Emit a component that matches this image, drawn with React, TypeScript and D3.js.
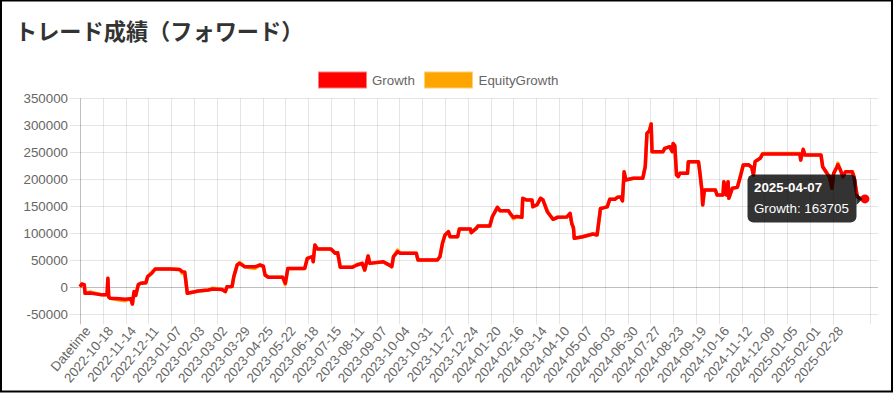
import React, { useEffect, useRef } from "react";
import * as d3 from "d3";

// category labels shown on the x axis (every 27th day)
const tickLabels = [
  "Datetime", "2022-10-18", "2022-11-14", "2022-12-11", "2023-01-07", "2023-02-03",
  "2023-03-02", "2023-03-29", "2023-04-25", "2023-05-22", "2023-06-18", "2023-07-15",
  "2023-08-11", "2023-09-07", "2023-10-04", "2023-10-31", "2023-11-27", "2023-12-24",
  "2024-01-20", "2024-02-16", "2024-03-14", "2024-04-10", "2024-05-07", "2024-06-03",
  "2024-06-30", "2024-07-27", "2024-08-23", "2024-09-19", "2024-10-16", "2024-11-12",
  "2024-12-09", "2025-01-05", "2025-02-01", "2025-02-28",
];
const labelStep = 27;
const lastCategory = 935;

const yTicks = [-50000, 0, 50000, 100000, 150000, 200000, 250000, 300000, 350000];

// category index of each sampled point
const days = [
  0, 2, 5, 6, 12, 26, 32, 33, 34, 36, 47, 53, 60, 62, 64, 66, 69, 72, 78, 80,
  85, 89, 107, 118, 121, 124, 127, 130, 140, 152, 157, 168, 172, 174, 180, 182, 186, 189, 195, 207,
  213, 217, 219, 223, 240, 243, 246, 266, 269, 275, 276, 278, 281, 297, 302, 305, 308, 322, 328, 334,
  337, 341, 343, 359, 365, 369, 371, 376, 379, 398, 400, 423, 426, 429, 432, 436, 438, 447, 449, 462,
  463, 469, 471, 485, 488, 494, 497, 507, 509, 513, 517, 523, 524, 529, 535, 536, 541, 545, 548, 553,
  556, 560, 565, 576, 580, 582, 584, 585, 595, 607, 612, 613, 616, 619, 624, 627, 633, 636, 640, 642,
  644, 646, 655, 666, 669, 671, 674, 676, 677, 690, 692, 698, 701, 702, 704, 706, 708, 710, 719, 720,
  732, 734, 736, 737, 739, 752, 754, 761, 762, 765, 767, 768, 772, 778, 781, 785, 791, 795, 797, 799,
  801, 805, 808, 852, 853, 856, 858, 877, 879, 884, 887, 890, 892, 896, 897, 900, 903, 906, 914, 916,
  920, 923, 929,
];

const growth = [
  1000, 6000, 5000, -11000, -10500, -14000, -14000, 16700, -18000, -20400, -21000, -22000, -21000, -31000, -8000, -15000, 5000, 7400, 8500, 19600,
  26000, 33900, 34000, 33000, 29000, 28000, -11000, -10000, -7000, -5000, -3100, -4000, -8000, 1100, 1500, 19600, 41300, 44400, 38000, 38000,
  41300, 39000, 22800, 18500, 18500, 7400, 35000, 35000, 53700, 56700, 47400, 78300, 71000, 71000, 63000, 64000, 37000, 37000, 41300, 44400,
  32000, 58000, 44300, 47400, 42000, 38200, 56700, 66000, 63000, 63000, 50500, 50500, 56700, 81500, 96900, 103000, 93700, 93700, 108000, 108000,
  101100, 109000, 113500, 113500, 130700, 148000, 141900, 141900, 137000, 129600, 131000, 129600, 164800, 161600, 161600, 149300, 153000, 164800, 161600, 140000,
  133900, 125900, 129600, 130000, 137000, 118500, 110000, 90700, 93700, 98700, 97000, 109000, 146000, 147000, 149000, 163000, 163000, 166700, 167000, 160000,
  214000, 198700, 201800, 201800, 223300, 285000, 290000, 302400, 251000, 251000, 257300, 260300, 251000, 266500, 262000, 208000, 205000, 211100, 211100, 232700,
  232700, 208000, 180200, 152400, 180200, 180200, 171000, 171000, 195600, 171000, 195600, 164800, 183300, 185000, 201800, 226500, 227000, 222000, 208000, 232700,
  235000, 238900, 246900, 246900, 235700, 255400, 245000, 245000, 223300, 211100, 204800, 183300, 211000, 223300, 227000, 217200, 205000, 214000, 214000, 205000,
  167800, 164800, 163705,
];

const equity = [
  1000, 6000, 5000, -11000, -8500, -14000, -14000, 16700, -18000, -20400, -23500, -25000, -21000, -31000, -8000, -15000, 5000, 7400, 8500, 19600,
  28000, 33900, 34000, 33000, 26000, 28000, -11000, -10000, -7000, -5000, -1500, -4000, -8000, 1100, 1500, 19600, 41300, 46000, 38000, 35000,
  41300, 39000, 22800, 18500, 18500, 5000, 35000, 35000, 53700, 56700, 47400, 78300, 71000, 71000, 63000, 64000, 37000, 37000, 42500, 44400,
  32000, 58000, 44300, 47400, 42000, 38200, 56700, 69000, 63000, 63000, 50500, 50500, 56700, 81500, 96900, 103000, 93700, 93700, 108000, 108000,
  101100, 109000, 113500, 113500, 130700, 148000, 141900, 141900, 137000, 127000, 131000, 129600, 164800, 161600, 161600, 149300, 153000, 164800, 161600, 142500,
  133900, 125900, 129600, 130000, 137000, 118500, 110000, 90700, 93700, 98700, 97000, 109000, 146000, 147000, 149000, 163000, 163000, 166700, 167000, 160000,
  214000, 198700, 201800, 201800, 223300, 285000, 290000, 302400, 251000, 251000, 257300, 260300, 251000, 266500, 262000, 208000, 205000, 211100, 211100, 232700,
  232700, 208000, 180200, 152400, 180200, 180200, 171000, 171000, 195600, 171000, 195600, 164800, 183300, 185000, 201800, 226500, 227000, 222000, 208000, 232700,
  235000, 238900, 248000, 248000, 235700, 255400, 245000, 245000, 223300, 211100, 204800, 183300, 211000, 223300, 230000, 217200, 205000, 214000, 214000, 205000,
  167800, 164800, 163705,
];

const hoverDate = "2025-04-07";

export default function App() {
  const ref = useRef<SVGSVGElement>(null);

  useEffect(() => {
    const svg = d3.select(ref.current);
    svg.selectAll("*").remove();

    const W = 894, H = 394;
    const left = 80, right = 870, gridRight = 878, top = 98.3, bottom = 314.3;
    const font = "'Liberation Sans', Arial, Helvetica, sans-serif";

    const x = d3.scaleLinear().domain([0, lastCategory]).range([left, right]);
    const y = d3.scaleLinear().domain([-50000, 350000]).range([bottom, top]);

    svg.append("rect").attr("width", W).attr("height", H).attr("fill", "#fff");

    // title
    svg.append("text")
      .attr("x", 15).attr("y", 40)
      .attr("font-family", "'Noto Sans CJK JP', sans-serif")
      .attr("font-weight", "bold").attr("font-size", 22.2).attr("fill", "#333")
      .text("トレード成績（フォワード）");

    // legend
    const legend = [
      { name: "Growth", fill: "#ff0000", stroke: "#ff7a7a", bx: 318.5, tx: 372 },
      { name: "EquityGrowth", fill: "#ffa500", stroke: "#ffcf7a", bx: 424.5, tx: 478.5 },
    ];
    legend.forEach(l => {
      svg.append("rect").attr("x", l.bx).attr("y", 72).attr("width", 48).attr("height", 16)
        .attr("fill", l.fill).attr("stroke", l.stroke).attr("stroke-width", 1);
      svg.append("text").attr("x", l.tx).attr("y", 84.5)
        .attr("font-family", font).attr("font-size", 13.33).attr("fill", "#666").text(l.name);
    });

    const grid = svg.append("g").attr("stroke", "rgba(0,0,0,0.1)").attr("stroke-width", 1);

    // horizontal grid + y labels
    yTicks.forEach(t => {
      const yy = Math.round(y(t)) + 0.5;
      grid.append("line").attr("x1", left - 10).attr("x2", gridRight).attr("y1", yy).attr("y2", yy)
        .attr("stroke", t === 0 ? "rgba(0,0,0,0.25)" : null);
      svg.append("text").attr("x", 68).attr("y", y(t) + 4.5).attr("text-anchor", "end")
        .attr("font-family", font).attr("font-size", 13.33).attr("fill", "#666").text(t);
    });

    // vertical grid + x labels
    const xTickIdx = tickLabels.map((_, i) => i * labelStep);
    [...xTickIdx, lastCategory].forEach(i => {
      const xx = Math.round(x(i)) + 0.5;
      grid.append("line").attr("x1", xx).attr("x2", xx).attr("y1", top).attr("y2", bottom + 10)
        .attr("stroke", i === 0 ? "rgba(0,0,0,0.25)" : null);
    });
    tickLabels.forEach((lab, i) => {
      svg.append("text")
        .attr("transform", `translate(${x(xTickIdx[i]) + 4},${bottom + 11}) rotate(-50)`)
        .attr("text-anchor", "end").attr("dy", "0.7em")
        .attr("font-family", font).attr("font-size", 13.33).attr("fill", "#666").text(lab);
    });

    const line = d3.line<number>()
      .x((_, i) => x(days[i]))
      .y(d => y(d));

    svg.append("path").datum(equity).attr("d", line).attr("fill", "none")
      .attr("stroke", "#ffa500").attr("stroke-width", 3.5).attr("stroke-linejoin", "round");
    svg.append("path").datum(growth).attr("d", line).attr("fill", "none")
      .attr("stroke", "#ff0000").attr("stroke-width", 3.5).attr("stroke-linejoin", "round");

    // hovered point + tooltip
    const last = days.length - 1;
    const px = x(days[last]), py = y(growth[last]);
    svg.append("circle").attr("cx", px).attr("cy", py).attr("r", 4.5).attr("fill", "#ff0000");

    const tip = svg.append("g");
    const tx = 747.5, ty = 174.5, tw = 109, th = 48;
    tip.append("path")
      .attr("d", `M${tx + tw},${py - 6} L${tx + tw + 6},${py} L${tx + tw},${py + 6} Z`)
      .attr("fill", "rgba(0,0,0,0.8)");
    tip.append("rect").attr("x", tx).attr("y", ty).attr("width", tw).attr("height", th).attr("rx", 6)
      .attr("fill", "rgba(0,0,0,0.8)");
    tip.append("text").attr("x", tx + 6.5).attr("y", ty + 17.5)
      .attr("font-family", font).attr("font-weight", "bold").attr("font-size", 13.33).attr("fill", "#fff")
      .text(hoverDate);
    tip.append("text").attr("x", tx + 6.5).attr("y", ty + 38.5)
      .attr("font-family", font).attr("font-size", 13.33).attr("fill", "#fff")
      .text(`Growth: ${growth[last]}`);

    // outer frame
    svg.append("rect").attr("x", 1).attr("y", 0.5).attr("width", W - 3).attr("height", H - 3)
      .attr("fill", "none").attr("stroke", "#000").attr("stroke-width", 2);
  }, []);

  return (
    <div style={{ position: "absolute", left: 0, top: 0 }}>
      <svg ref={ref} width={894} height={394} style={{ display: "block" }} />
    </div>
  );
}
